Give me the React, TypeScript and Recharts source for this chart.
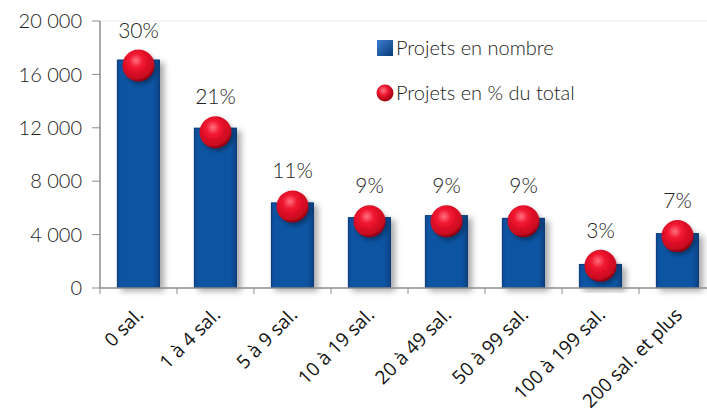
import React from "react";
import {
  ComposedChart,
  Bar,
  Line,
  XAxis,
  YAxis,
  LabelList,
  ReferenceLine,
} from "recharts";

const categories = [
  "0 sal.",
  "1 à 4 sal.",
  "5 à 9 sal.",
  "10 à 19 sal.",
  "20 à 49 sal.",
  "50 à 99 sal.",
  "100 à  199 sal.",
  "200 sal. et plus",
];
const projetsNombre = [17100, 12000, 6400, 5300, 5450, 5250, 1800, 4100];
const projetsPct = [30, 21, 11, 9, 9, 9, 3, 7];
const yTicks = [0, 4000, 8000, 12000, 16000, 20000];

const data = categories.map((cat, i) => ({
  cat,
  nombre: projetsNombre[i],
  pct: projetsPct[i],
}));

const FONT = "Lato, 'Noto Sans', sans-serif";
const BAND = 77;

const fmt = (v: number) =>
  v === 0 ? "0" : v.toLocaleString("en-US").replace(/,/g, " ");

const BarShape = (props: any) => {
  const { x, y, width, height } = props;
  if (!height || height <= 0) return null;
  return (
    <g filter="url(#barShadow)">
      <rect x={x} y={y} width={width} height={height} fill="url(#barGrad)" />
      <rect
        x={x + 0.5}
        y={y + 0.5}
        width={width - 1}
        height={height - 1}
        fill="none"
        stroke="#0a3e7c"
        strokeWidth={1}
      />
    </g>
  );
};

const Ball = (props: any) => {
  const { cx, cy } = props;
  if (cx == null || cy == null) return null;
  return (
    <circle
      cx={cx}
      cy={cy}
      r={16}
      fill="url(#ballGrad)"
      filter="url(#ballShadow)"
    />
  );
};

const XTick = (props: any) => {
  const { x, y, payload } = props;
  return (
    <g>
      <line x1={x - BAND / 2} x2={x - BAND / 2} y1={y - 8} y2={y - 2} stroke="#8c8c8c" />
      <text
        x={x + 6}
        y={y + 20}
        textAnchor="end"
        transform={`rotate(-45, ${x + 6}, ${y + 20})`}
        fontFamily="'Open Sans', sans-serif"
        fontSize={19}
        fill="#111"
      >
        {payload.value}
      </text>
    </g>
  );
};

const LegendBox = () => (
  <div
    style={{
      position: "absolute",
      top: 25,
      left: 376,
      fontFamily: FONT,
      fontWeight: 300,
      fontSize: 20,
      color: "#222",
      lineHeight: "45px",
    }}
  >
    <div style={{ display: "flex", alignItems: "center" }}>
      <svg width={18} height={18} style={{ marginRight: 2 }}>
        <defs>
          <linearGradient id="legSq" x1="0" y1="0" x2="1" y2="1">
            <stop offset="0%" stopColor="#3b7fd0" />
            <stop offset="100%" stopColor="#083a78" />
          </linearGradient>
        </defs>
        <rect x={1} y={1} width={16} height={16} fill="url(#legSq)" />
      </svg>
      Projets en nombre
    </div>
    <div style={{ display: "flex", alignItems: "center" }}>
      <svg width={18} height={18} style={{ marginRight: 2 }}>
        <defs>
          <radialGradient id="legBall" cx="40%" cy="35%" r="65%">
            <stop offset="0%" stopColor="#ff7a85" />
            <stop offset="45%" stopColor="#ee1530" />
            <stop offset="100%" stopColor="#9a0010" />
          </radialGradient>
        </defs>
        <circle cx={9} cy={9} r={8.5} fill="url(#legBall)" />
      </svg>
      Projets en % du total
    </div>
  </div>
);

export default function App() {
  return (
    <div
      style={{
        position: "absolute",
        left: 0,
        top: 0,
        width: 707,
        height: 414,
        overflow: "hidden",
        background: "#fff",
      }}
    >
      <ComposedChart
        width={720}
        height={414}
        data={data}
        margin={{ top: 21, right: 4, left: 0, bottom: 0 }}
        barCategoryGap="22%"
      >
        <defs>
          <linearGradient id="barGrad" x1="0" y1="0" x2="1" y2="0">
            <stop offset="0%" stopColor="#0c4a94" />
            <stop offset="10%" stopColor="#0b54a3" />
            <stop offset="85%" stopColor="#0b54a3" />
            <stop offset="100%" stopColor="#08417f" />
          </linearGradient>
          <radialGradient id="ballGrad" cx="42%" cy="35%" r="65%">
            <stop offset="0%" stopColor="#ff7080" />
            <stop offset="35%" stopColor="#f0152f" />
            <stop offset="85%" stopColor="#c80a20" />
            <stop offset="100%" stopColor="#8a0010" />
          </radialGradient>
          <filter id="barShadow" x="-20%" y="-10%" width="160%" height="130%">
            <feDropShadow dx={4} dy={3} stdDeviation={3} floodColor="#000" floodOpacity={0.35} />
          </filter>
          <filter id="ballShadow" x="-50%" y="-50%" width="200%" height="200%">
            <feDropShadow dx={2} dy={3} stdDeviation={2} floodColor="#000" floodOpacity={0.35} />
          </filter>
        </defs>
        <ReferenceLine yAxisId="left" y={20000} stroke="#ececec" />
        <XAxis
          dataKey="cat"
          interval={0}
          height={126}
          tickLine={false}
          axisLine={{ stroke: "#8c8c8c", strokeWidth: 1.5 }}
          tick={<XTick />}
        />
        <YAxis
          yAxisId="left"
          domain={[0, 20000]}
          ticks={yTicks}
          width={100}
          tickSize={8}
          tickMargin={10}
          tickFormatter={fmt}
          axisLine={{ stroke: "#8c8c8c", strokeWidth: 1.5 }}
          tickLine={{ stroke: "#8c8c8c" }}
          tick={{ fontFamily: FONT, fontWeight: 300, fontSize: 20, fill: "#222" }}
        />
        <YAxis yAxisId="right" orientation="right" domain={[0, 36]} hide />
        <Bar
          yAxisId="left"
          dataKey="nombre"
          shape={<BarShape />}
          isAnimationActive={false}
        />
        <Line
          yAxisId="right"
          dataKey="pct"
          stroke="none"
          dot={<Ball />}
          activeDot={false}
          isAnimationActive={false}
        >
          <LabelList
            dataKey="pct"
            position="top"
            offset={28}
            formatter={(v: any) => `${v}%`}
            style={{ fontFamily: FONT, fontWeight: 300, fontSize: 21, fill: "#222" }}
          />
        </Line>
      </ComposedChart>
      <LegendBox />
    </div>
  );
}
